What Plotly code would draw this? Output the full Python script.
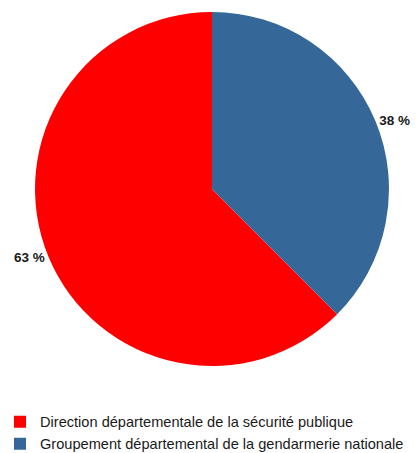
import plotly.graph_objects as go

categories = ["Direction départementale de la sécurité publique",
              "Groupement départemental de la gendarmerie nationale"]
values = [62.5, 37.5]
pct_labels = ["63 %", "38 %"]
colors = ["#ff0000", "#356898"]

# start the first (red) slice where the blue one ends so blue sits at 12 o'clock going clockwise
start_angle = 360 * values[1] / sum(values)

fig = go.Figure(go.Pie(
    labels=categories,
    values=values,
    text=pct_labels,
    texttemplate="%{text}",
    textposition="outside",
    textfont=dict(family="Liberation Sans", size=13.5, color="#1a1a1a", weight="bold"),
    marker=dict(colors=colors, line=dict(width=0)),
    sort=False,
    direction="clockwise",
    rotation=start_angle,
    hoverinfo="label+percent",
    domain=dict(x=[(212 - 177) / 417, (212 + 177) / 417],
                y=[(453 - 366) / 453, (453 - 12) / 453]),
))

fig.update_layout(
    width=417, height=453,
    margin=dict(l=0, r=0, t=0, b=0, autoexpand=False),
    paper_bgcolor="white",
    plot_bgcolor="white",
    font=dict(family="Liberation Sans", size=14.6, color="#1a1a1a"),
    legend=dict(x=0.0, y=-0.015, xanchor="left", yanchor="bottom",
                orientation="v", font=dict(size=14.6),
                itemwidth=30, tracegroupgap=0),
    showlegend=True,
)

fig.write_html("out.html")
